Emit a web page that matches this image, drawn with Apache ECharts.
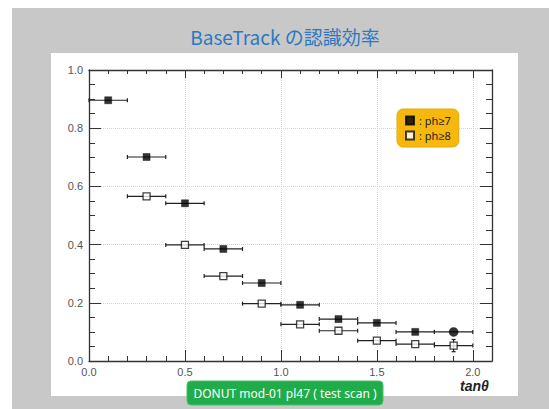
<!DOCTYPE html>
<html>
<head>
<meta charset="utf-8">
<script src="https://cdn.jsdelivr.net/npm/echarts@6/dist/echarts.min.js"></script>
<style>
  html, body { margin: 0; padding: 0; background: #fff; }
  #chart { width: 549px; height: 409px; }
</style>
</head>
<body>
<div id="chart"></div>
<script>
// Efficiency per tan(theta) bin, for two pulse-height cuts
const binCenters   = [0.1, 0.3, 0.5, 0.7, 0.9, 1.1, 1.3, 1.5, 1.7, 1.9];
const binHalfWidth = [0.1, 0.1, 0.1, 0.1, 0.1, 0.1, 0.1, 0.1, 0.1, 0.1];
const effPh7       = [0.896, 0.701, 0.542, 0.385, 0.268, 0.193, 0.144, 0.131, 0.100, 0.100];
const errPh7       = [0, 0, 0, 0, 0, 0, 0, 0, 0, 0];
const effPh8       = [null, 0.566, 0.399, 0.292, 0.197, 0.126, 0.104, 0.070, 0.058, 0.053];
const errPh8       = [0, 0, 0, 0, 0, 0, 0, 0, 0, 0.021];

const seriesNames  = ['ph\u22657', 'ph\u22658'];
const titleText    = 'BaseTrack \u306e\u8a8d\u8b58\u52b9\u7387';
const footerText   = 'DONUT mod-01 pl47 ( test scan )';
const xAxisTitle   = 'tan\u03b8';

function points(vals) {
  return binCenters.map((x, i) => vals[i] == null ? null : [x, vals[i]]).filter(Boolean);
}
function errRows(vals, errs) {
  return binCenters.map((x, i) => vals[i] == null ? null : [x, vals[i], binHalfWidth[i], errs[i]]).filter(Boolean);
}

// Horizontal bin-width bars with end caps, plus vertical error where present
function renderErr(params, api) {
  const x = api.value(0), y = api.value(1), xe = api.value(2), ye = api.value(3);
  const l = api.coord([x - xe, y]);
  const r = api.coord([x + xe, y]);
  const st = { stroke: '#222', lineWidth: 1.2 };
  const cap = 2;
  const kids = [
    { type: 'line', shape: { x1: l[0], y1: l[1], x2: r[0], y2: r[1] }, style: st },
    { type: 'line', shape: { x1: l[0], y1: l[1] - cap, x2: l[0], y2: l[1] + cap }, style: st },
    { type: 'line', shape: { x1: r[0], y1: r[1] - cap, x2: r[0], y2: r[1] + cap }, style: st }
  ];
  if (ye > 0) {
    const t = api.coord([x, y + ye]);
    const b = api.coord([x, y - ye]);
    kids.push({ type: 'line', shape: { x1: t[0], y1: t[1], x2: b[0], y2: b[1] }, style: st });
    kids.push({ type: 'line', shape: { x1: t[0] - cap, y1: t[1], x2: t[0] + cap, y2: t[1] }, style: st });
    kids.push({ type: 'line', shape: { x1: b[0] - cap, y1: b[1], x2: b[0] + cap, y2: b[1] }, style: st });
  }
  return { type: 'group', children: kids };
}

const chart = echarts.init(document.getElementById('chart'), null, { renderer: 'svg' });

const axisColor = '#333';
const labelStyle = { color: '#555', fontSize: 11, fontFamily: 'Liberation Sans, Arial, sans-serif' };
const fmt1 = v => Number(v).toFixed(1);

const ph7Points = points(effPh7).map((p, i, arr) =>
  i === arr.length - 1 ? { value: p, symbol: 'circle', symbolSize: 9 } : p);

function frameAxis(extra) {
  return Object.assign({
    type: 'value',
    axisLine: { show: true, onZero: false, lineStyle: { color: axisColor, width: 1.3 } }
  }, extra);
}

chart.setOption({
  backgroundColor: '#ffffff',
  animation: false,
  grid: { left: 89, top: 70, width: 403, height: 291 },
  xAxis: [
    frameAxis({
      min: 0, max: 2.1, interval: 0.5, position: 'bottom',
      axisTick: { show: true, inside: true, length: 11, lineStyle: { color: axisColor } },
      minorTick: { show: true, splitNumber: 5, length: 5, lineStyle: { color: axisColor } },
      axisLabel: Object.assign({ formatter: fmt1, showMaxLabel: false, margin: 5 }, labelStyle),
      splitLine: { show: true, lineStyle: { color: '#d4d4d4', type: 'dotted' } }
    }),
    frameAxis({
      min: 0, max: 2.1, interval: 0.5, position: 'top',
      axisTick: { show: true, inside: true, length: 8, lineStyle: { color: axisColor } },
      minorTick: { show: true, splitNumber: 5, length: 4, lineStyle: { color: axisColor } },
      axisLabel: { show: false },
      splitLine: { show: false }
    })
  ],
  yAxis: [
    frameAxis({
      min: 0, max: 1, interval: 0.2, position: 'left',
      axisTick: { show: true, inside: true, length: 12, lineStyle: { color: axisColor } },
      minorTick: { show: true, splitNumber: 4, length: 6, lineStyle: { color: axisColor } },
      axisLabel: Object.assign({ formatter: fmt1, margin: 6 }, labelStyle),
      splitLine: { show: true, lineStyle: { color: '#d4d4d4', type: 'dotted' } }
    }),
    frameAxis({
      min: 0, max: 1, interval: 0.2, position: 'right',
      axisTick: { show: true, inside: true, length: 12, lineStyle: { color: axisColor } },
      minorTick: { show: true, splitNumber: 4, length: 6, lineStyle: { color: axisColor } },
      axisLabel: { show: false },
      splitLine: { show: false }
    })
  ],
  legend: {
    data: seriesNames,
    orient: 'vertical',
    left: 397, top: 109, width: 60, height: 38,
    padding: [6, 8, 6, 8],
    itemWidth: 8, itemHeight: 8, itemGap: 4,
    backgroundColor: '#f6b80f',
    borderColor: '#e9a800', borderWidth: 1,
    borderRadius: 6,
    formatter: n => ': ' + n,
    textStyle: { color: '#222', fontSize: 11, fontFamily: 'Noto Sans, sans-serif' },
    selectedMode: false
  },
  graphic: [
    { type: 'rect', z: -100, silent: true, shape: { x: 12, y: 8, width: 537, height: 401 },
      style: { fill: '#c8c8c8' } },
    { type: 'rect', z: -99, silent: true, shape: { x: 51, y: 53, width: 467, height: 343 },
      style: { fill: '#ffffff' } },
    { type: 'text', z: 100, x: 285, y: 36,
      style: { text: titleText, textAlign: 'center', textVerticalAlign: 'middle',
               fill: '#2e78bf', fontSize: 19, fontFamily: 'Noto Sans CJK JP, sans-serif' } },
    { type: 'text', z: 100, x: 460, y: 386,
      style: { text: xAxisTitle, textAlign: 'left', textVerticalAlign: 'middle',
               fill: '#222', fontSize: 14, fontWeight: 'bold', fontStyle: 'italic',
               fontFamily: 'Liberation Sans, Arial, sans-serif' } },
    { type: 'rect', z: 100, shape: { x: 187, y: 381, width: 196, height: 24, r: 4 },
      style: { fill: '#21ac4b', stroke: '#4cc06a', lineWidth: 1 } },
    { type: 'text', z: 101, x: 285, y: 393,
      style: { text: footerText, textAlign: 'center', textVerticalAlign: 'middle',
               fill: '#ffffff', fontSize: 12, fontFamily: 'Noto Sans, sans-serif' } }
  ],
  series: [
    {
      type: 'custom', name: 'err7', renderItem: renderErr, z: 3,
      data: errRows(effPh7, errPh7), encode: { x: 0, y: 1 }
    },
    {
      type: 'custom', name: 'err8', renderItem: renderErr, z: 3,
      data: errRows(effPh8, errPh8), encode: { x: 0, y: 1 }
    },
    {
      type: 'scatter', name: seriesNames[0], symbol: 'rect', symbolSize: 7, z: 5,
      itemStyle: { color: '#000', borderColor: '#000', borderWidth: 0.5 },
      data: ph7Points
    },
    {
      type: 'scatter', name: seriesNames[1], symbol: 'rect', symbolSize: 7, z: 5,
      itemStyle: { color: '#fff', borderColor: '#111', borderWidth: 1.3 },
      data: points(effPh8)
    }
  ]
});
</script>
</body>
</html>
